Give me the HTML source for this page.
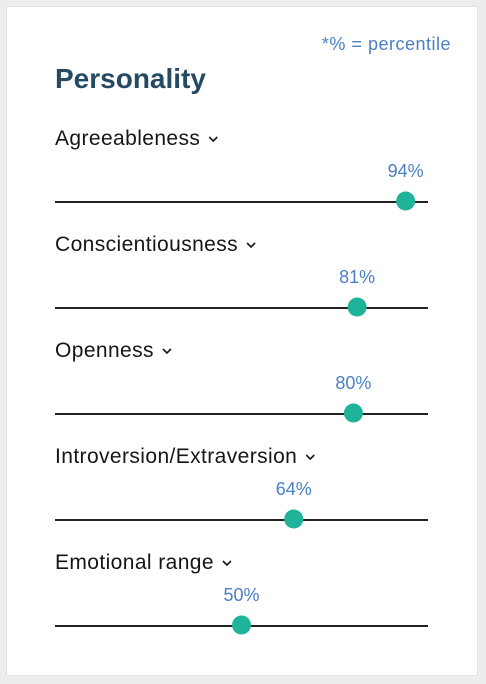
<!DOCTYPE html>
<html><head><meta charset="utf-8"><style>
body{margin:0;width:486px;height:684px;background:#ededed;font-family:"Liberation Sans",Arial,sans-serif;overflow:hidden}
#card{position:absolute;left:6px;top:6px;width:472px;height:670px;background:#fff;border:1px solid #e2e2e2;box-sizing:border-box}
svg{position:absolute;left:0;top:0}
</style></head><body>
<div id="card"></div>
<svg id="chart" width="486" height="684">
<text x="451" y="50" text-anchor="end" font-size="18" letter-spacing="0.5" fill="#4a80c4">*% = percentile</text>
<text x="55" y="88" font-size="28" font-weight="bold" fill="#254a63">Personality</text>
</svg>
<script>
const traits=["Agreeableness","Conscientiousness","Openness","Introversion/Extraversion","Emotional range"];
const percentiles=[94,81,80,64,50];
const svg=document.getElementById('chart');
const NS="http://www.w3.org/2000/svg";
const x0=55,x1=428;
function xScale(v){return x0+(x1-x0)*v/100;}
function rowY(i){return 138+i*106;}
function mk(tag,attrs){const e=document.createElementNS(NS,tag);for(const k in attrs)e.setAttribute(k,attrs[k]);svg.appendChild(e);return e;}
const measure=document.createElement('canvas').getContext('2d');
measure.font='21px "Liberation Sans", Arial, sans-serif';
traits.forEach((t,i)=>{
  const y=rowY(i);
  const lab=mk('text',{x:55,y:y+7,'font-size':21,'letter-spacing':0.4,fill:'#161616'});
  lab.textContent=t;
  
  
  const w=measure.measureText(t).width+0.4*t.length;
  const cx=55+w+13;
  const chev=mk('polyline',{points:`${cx-4},${y-1} ${cx},${y+3} ${cx+4},${y-1}`,fill:'none',stroke:'#161616','stroke-width':1.6});
  
  
  const ln=mk('line',{x1:x0,x2:x1,y1:y+64,y2:y+64,stroke:'#222','stroke-width':2});
  
  
  const px=xScale(percentiles[i]);
  const val=mk('text',{x:px,y:y+39,'text-anchor':'middle','font-size':18,fill:'#4a80c4'});
  val.textContent=percentiles[i]+'%';
  
  
  const dot=mk('circle',{cx:px,cy:y+63,r:9.5,fill:'#1fb39a'});
  
  
});
</script>
</body></html>
